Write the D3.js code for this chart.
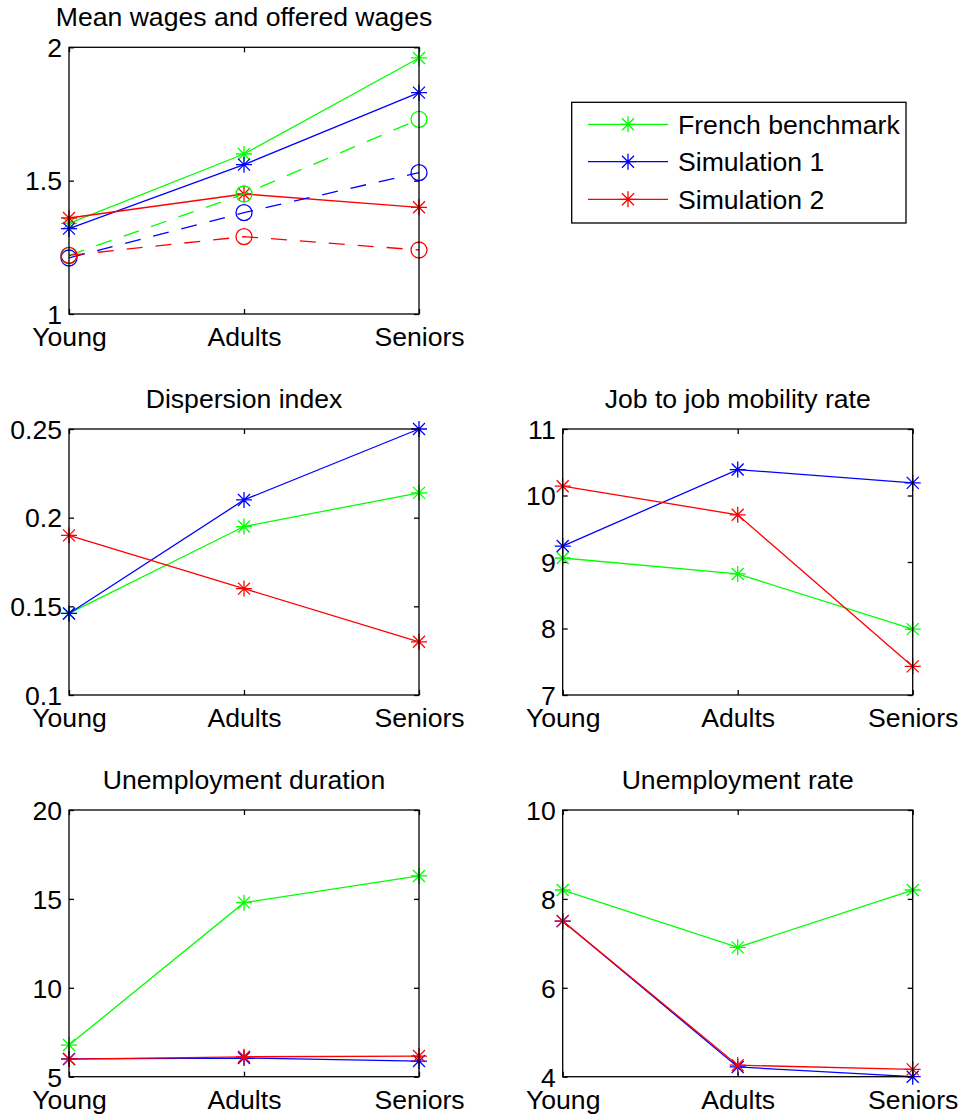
<!DOCTYPE html>
<html>
<head>
<meta charset="utf-8">
<script src="https://cdn.jsdelivr.net/npm/d3@7"></script>
<style>
  html, body { margin: 0; padding: 0; background: #fff; }
  svg { display: block; }
  text { font-family: "Liberation Sans", Arial, Helvetica, sans-serif; font-size: 26.6px; fill: #000; }
</style>
</head>
<body>
<script>
// ---------------- DATA ----------------
const categories = ["Young", "Adults", "Seniors"];
const seriesNames = ["French benchmark", "Simulation 1", "Simulation 2"];
const seriesColors = ["#00ff00", "#0000ff", "#ff0000"];

// Panel 1: mean wages (solid, stars) and offered wages (dashed, circles)
const meanWageFrench = [1.34, 1.60, 1.96];
const meanWageSim1   = [1.32, 1.56, 1.83];
const meanWageSim2   = [1.36, 1.45, 1.40];
const offeredWageFrench = [1.22, 1.45, 1.73];
const offeredWageSim1   = [1.21, 1.38, 1.53];
const offeredWageSim2   = [1.22, 1.29, 1.24];

// Panel 2: dispersion index
const dispersionFrench = [0.146, 0.195, 0.214];
const dispersionSim1   = [0.146, 0.210, 0.250];
const dispersionSim2   = [0.190, 0.160, 0.130];

// Panel 3: job to job mobility rate
const mobilityFrench = [9.06, 8.82, 7.99];
const mobilitySim1   = [9.24, 10.39, 10.19];
const mobilitySim2   = [10.14, 9.71, 7.43];

// Panel 4: unemployment duration
const durationFrench = [6.78, 14.79, 16.29];
const durationSim1   = [6.00, 6.05, 5.88];
const durationSim2   = [5.99, 6.12, 6.16];

// Panel 5: unemployment rate
const rateFrench = [8.20, 6.91, 8.20];
const rateSim1   = [7.50, 4.22, 4.00];
const rateSim2   = [7.50, 4.26, 4.165];

// Tick values
const ticksWages = [1, 1.5, 2];
const ticksDispersion = [0.1, 0.15, 0.2, 0.25];
const ticksMobility = [7, 8, 9, 10, 11];
const ticksDuration = [5, 10, 15, 20];
const ticksRate = [4, 6, 8, 10];

// ---------------- LAYOUT ----------------
const W = 963, H = 1120;
const svg = d3.select("body").append("svg").attr("width", W).attr("height", H);

const panels = [
  { title: "Mean wages and offered wages", box: [69, 47.3, 419, 314], domain: [1, 2], ticks: ticksWages,
    solid: [meanWageFrench, meanWageSim1, meanWageSim2],
    dashed: [offeredWageFrench, offeredWageSim1, offeredWageSim2] },
  { title: "Dispersion index", box: [69, 429, 419, 695], domain: [0.1, 0.25], ticks: ticksDispersion,
    solid: [dispersionFrench, dispersionSim1, dispersionSim2] },
  { title: "Job to job mobility rate", box: [562.7, 429, 912.7, 695], domain: [7, 11], ticks: ticksMobility,
    solid: [mobilityFrench, mobilitySim1, mobilitySim2] },
  { title: "Unemployment duration", box: [69, 810, 419, 1076.7], domain: [5, 20], ticks: ticksDuration,
    solid: [durationFrench, durationSim1, durationSim2] },
  { title: "Unemployment rate", box: [562.7, 810, 912.7, 1076.7], domain: [4, 10], ticks: ticksRate,
    solid: [rateFrench, rateSim1, rateSim2] }
];

const STAR = 8, STARD = 6, CIRC = 8, LW = 1.3, TICK = 5;

function starPath(cx, cy) {
  return `M${cx - STAR},${cy}L${cx + STAR},${cy}` +
         `M${cx},${cy - STAR}L${cx},${cy + STAR}` +
         `M${cx - STARD},${cy - STARD}L${cx + STARD},${cy + STARD}` +
         `M${cx - STARD},${cy + STARD}L${cx + STARD},${cy - STARD}`;
}

const fmt = d3.format("~g");

panels.forEach(p => {
  const [x0, y0, x1, y1] = p.box;
  const g = svg.append("g");
  const x = d3.scalePoint().domain(categories).range([x0, x1]).padding(0);
  const y = d3.scaleLinear().domain(p.domain).range([y1, y0]);

  // title
  g.append("text").attr("x", (x0 + x1) / 2).attr("y", y0 - 21)
    .attr("text-anchor", "middle").text(p.title);

  // axes with inward ticks
  const left = g.append("g").attr("transform", `translate(${x0},0)`)
    .call(d3.axisLeft(y).tickValues(p.ticks).tickSize(-TICK).tickPadding(7).tickFormat(fmt));
  const right = g.append("g").attr("transform", `translate(${x1},0)`)
    .call(d3.axisRight(y).tickValues(p.ticks).tickSize(-TICK).tickFormat(""));
  const top = g.append("g").attr("transform", `translate(0,${y0})`)
    .call(d3.axisTop(x).tickSize(-TICK).tickFormat(""));
  const bottom = g.append("g").attr("transform", `translate(0,${y1})`)
    .call(d3.axisBottom(x).tickSize(-TICK).tickPadding(0));

  [left, right, top, bottom].forEach(a => {
    a.select(".domain").remove();
    a.selectAll(".tick line").attr("stroke", "#000").attr("stroke-width", LW);
    a.selectAll("text").attr("font-size", null).attr("font-family", null).attr("fill", "#000");
  });
  left.selectAll(".tick text").attr("dy", "0.35em");
  bottom.selectAll(".tick text").attr("y", 32).attr("dy", null);

  // series
  const line = d3.line().x((d, i) => x(categories[i])).y(d => y(d));
  p.solid.forEach((vals, si) => {
    g.append("path").datum(vals).attr("d", line)
      .attr("fill", "none").attr("stroke", seriesColors[si]).attr("stroke-width", LW);
    g.selectAll(null).data(vals).enter().append("path")
      .attr("d", (d, i) => starPath(x(categories[i]), y(d)))
      .attr("stroke", seriesColors[si]).attr("stroke-width", LW).attr("fill", "none");
  });
  if (p.dashed) {
    p.dashed.forEach((vals, si) => {
      g.append("path").datum(vals).attr("d", line)
        .attr("fill", "none").attr("stroke", seriesColors[si]).attr("stroke-width", LW)
        .attr("stroke-dasharray", "16,13");
      g.selectAll(null).data(vals).enter().append("circle")
        .attr("cx", (d, i) => x(categories[i])).attr("cy", d => y(d)).attr("r", CIRC)
        .attr("stroke", seriesColors[si]).attr("stroke-width", LW).attr("fill", "none");
    });
  }

  // box
  g.append("rect").attr("x", x0).attr("y", y0).attr("width", x1 - x0).attr("height", y1 - y0)
    .attr("fill", "none").attr("stroke", "#000").attr("stroke-width", LW);
});

// ---------------- LEGEND ----------------
const lg = svg.append("g");
lg.append("rect").attr("x", 571.7).attr("y", 102.3).attr("width", 906 - 571.7).attr("height", 223 - 102.3)
  .attr("fill", "#fff").attr("stroke", "#000").attr("stroke-width", LW);
const legendRows = [124.3, 161.7, 199.3];
seriesNames.forEach((name, i) => {
  const yy = legendRows[i];
  lg.append("line").attr("x1", 588).attr("x2", 668).attr("y1", yy).attr("y2", yy)
    .attr("stroke", seriesColors[i]).attr("stroke-width", LW);
  lg.append("path").attr("d", starPath(628, yy)).attr("stroke", seriesColors[i])
    .attr("stroke-width", LW).attr("fill", "none");
  lg.append("text").attr("x", 678).attr("y", yy).attr("dy", "0.35em").text(name);
});
</script>
</body>
</html>
